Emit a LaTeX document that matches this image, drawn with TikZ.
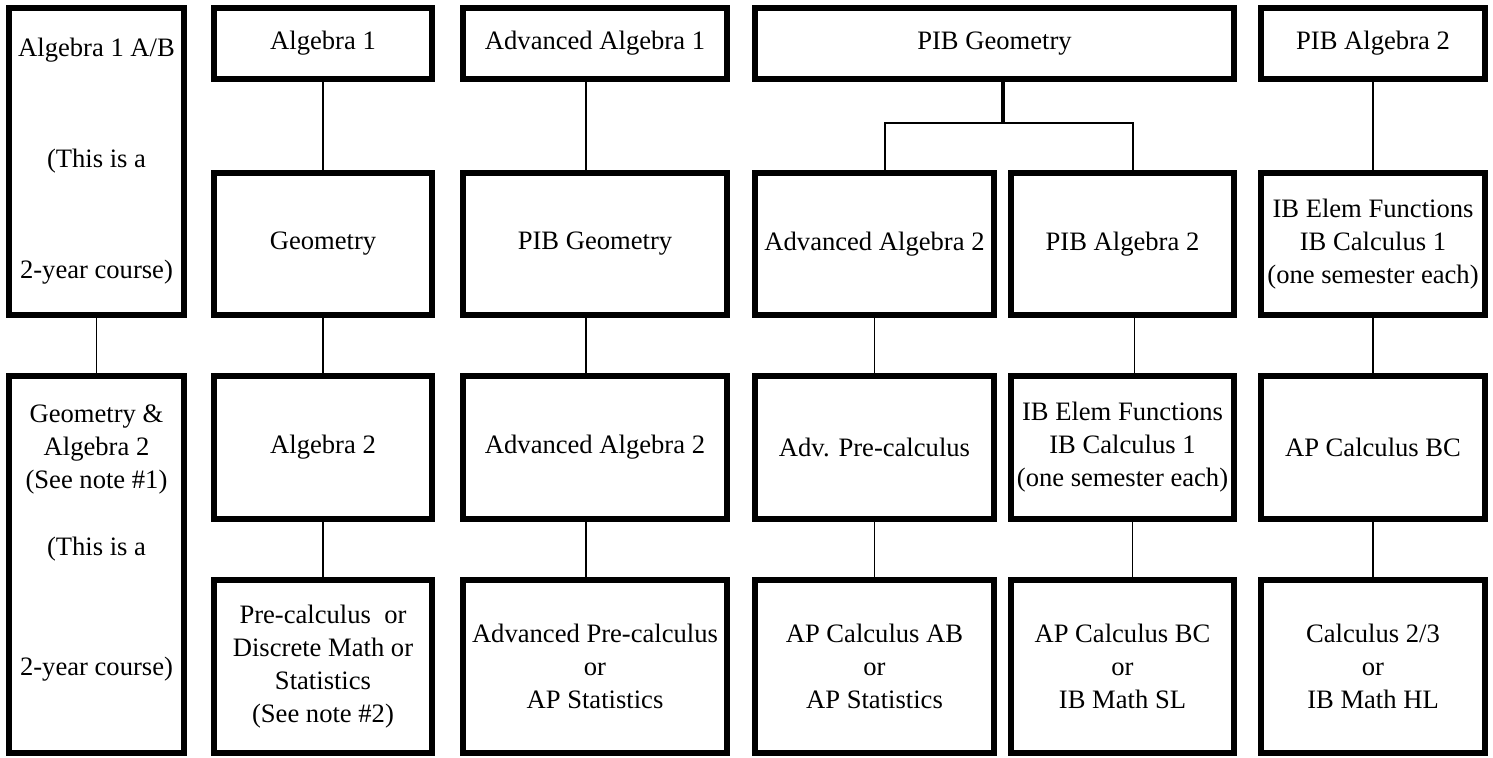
\documentclass[tikz,border=0pt]{standalone}
\usepackage{fontspec}
\setmainfont{Liberation Serif}
\usetikzlibrary{positioning}

\begin{document}
\begin{tikzpicture}[
    x=0.5pt, y=-0.5pt,
    font=\fontsize{13.3}{16.5}\selectfont,
    course/.style={rectangle, draw, line width=3pt, align=center, inner sep=2pt},
    rowone/.style={course, minimum height=35.5pt},
    rowtwo/.style={course, minimum height=71pt},
    rowthree/.style={course, minimum height=71.5pt},
    rowfour/.style={course, minimum height=86.5pt},
    link/.style={line width=0.9pt}
]
\useasboundingbox (0,0) rectangle (1493,757);

% Column 1
\node[course, minimum width=87.5pt, minimum height=153.5pt] (alg1ab) at (96.5,161.5) {Algebra 1 A/B\\[39pt](This is a\\[39pt]2-year course)};
\node[course, minimum width=87.5pt, minimum height=188.5pt] (geoalg) at (96.5,564.5) {};
\node[align=center] (geoalgtxt) at ([yshift=10.75pt]geoalg.center) {Geometry \&\\Algebra 2\\(See note \#1)\\[17pt](This is a\\[43.5pt]2-year course)};

% Column 2
\node[rowone, minimum width=109pt] (alg1) at (323,43.5) {Algebra 1};
\node[rowtwo, minimum width=109pt] (geo) at (323,244) {Geometry};
\node[rowthree, minimum width=109pt] (alg2) at (323,447.5) {Algebra 2};
\node[rowfour, minimum width=109pt] (precalc) at (323,666.5) {Pre-calculus\ \ or\\Discrete Math or\\Statistics\\(See note \#2)};

% Column 3
\node[rowone, minimum width=132pt] (advalg1) at (595,43.5) {Advanced Algebra 1};
\node[rowtwo, minimum width=132pt] (pibgeo) at (595,244) {PIB Geometry};
\node[rowthree, minimum width=132pt] (advalg2) at (595,447.5) {Advanced Algebra 2};
\node[rowfour, minimum width=132pt] (advprecalc) at (595,666.5) {Advanced Pre-calculus\\or\\AP Statistics};

% Column 4
\node[rowone, minimum width=239.5pt] (pibgeotop) at (994.5,43.5) {PIB Geometry};
\node[rowtwo, minimum width=119.5pt] (advalg2b) at (874.5,244) {Advanced Algebra 2};
\node[rowthree, minimum width=119.5pt] (advpre) at (874.5,447.5) {Adv. Pre-calculus};
\node[rowfour, minimum width=119.5pt] (apab) at (874.5,666.5) {AP Calculus AB\\or\\AP Statistics};
\node[rowtwo, minimum width=111.5pt] (pibalg2) at (1122.5,244) {PIB Algebra 2};
\node[rowthree, minimum width=111.5pt] (ibelem) at (1122.5,447.5) {IB Elem Functions\\IB Calculus 1\\(one semester each)};
\node[rowfour, minimum width=111.5pt] (apbc) at (1122.5,666.5) {AP Calculus BC\\or\\IB Math SL};

% Column 5
\node[rowone, minimum width=112pt] (pibalg2top) at (1373,43.5) {PIB Algebra 2};
\node[rowtwo, minimum width=112pt] (ibelemb) at (1373,244) {IB Elem Functions\\IB Calculus 1\\(one semester each)};
\node[rowthree, minimum width=112pt] (apbcb) at (1373,447.5) {AP Calculus BC};
\node[rowfour, minimum width=112pt] (calc23) at (1373,666.5) {Calculus 2/3\\or\\IB Math HL};

% Connectors
\draw[link] (alg1ab) -- (geoalg);
\draw[link] (alg1) -- (geo);
\draw[link] (geo) -- (alg2);
\draw[link] (alg2) -- (precalc);
\draw[link] ([xshift=-4.5pt]advalg1.south) -- ([xshift=-4.5pt]pibgeo.north);
\draw[link] ([xshift=-4.5pt]pibgeo.south) -- ([xshift=-4.5pt]advalg2.north);
\draw[link] ([xshift=-4.5pt]advalg2.south) -- ([xshift=-4.5pt]advprecalc.north);
\draw[link] (advalg2b) -- (advpre);
\draw[link] (advpre) -- (apab);
\draw[link] ([xshift=6pt]pibalg2.south) -- ([xshift=6pt]ibelem.north);
\draw[link] ([xshift=5pt]ibelem.south) -- ([xshift=5pt]apbc.north);
\draw[link] (pibalg2top) -- (ibelemb);
\draw[link] (ibelemb) -- (apbcb);
\draw[link] (apbcb) -- (calc23);

% Fork below PIB Geometry
\coordinate (fork) at ([xshift=4pt,yshift=-20.5pt]pibgeotop.south);
\draw[line width=2pt] ([xshift=4pt]pibgeotop.south) -- (fork);
\draw[line width=1pt] ([xshift=5pt]advalg2b.north) |- ([xshift=5pt]pibalg2.north |- fork) -- ([xshift=5pt]pibalg2.north);

\end{tikzpicture}
\end{document}
